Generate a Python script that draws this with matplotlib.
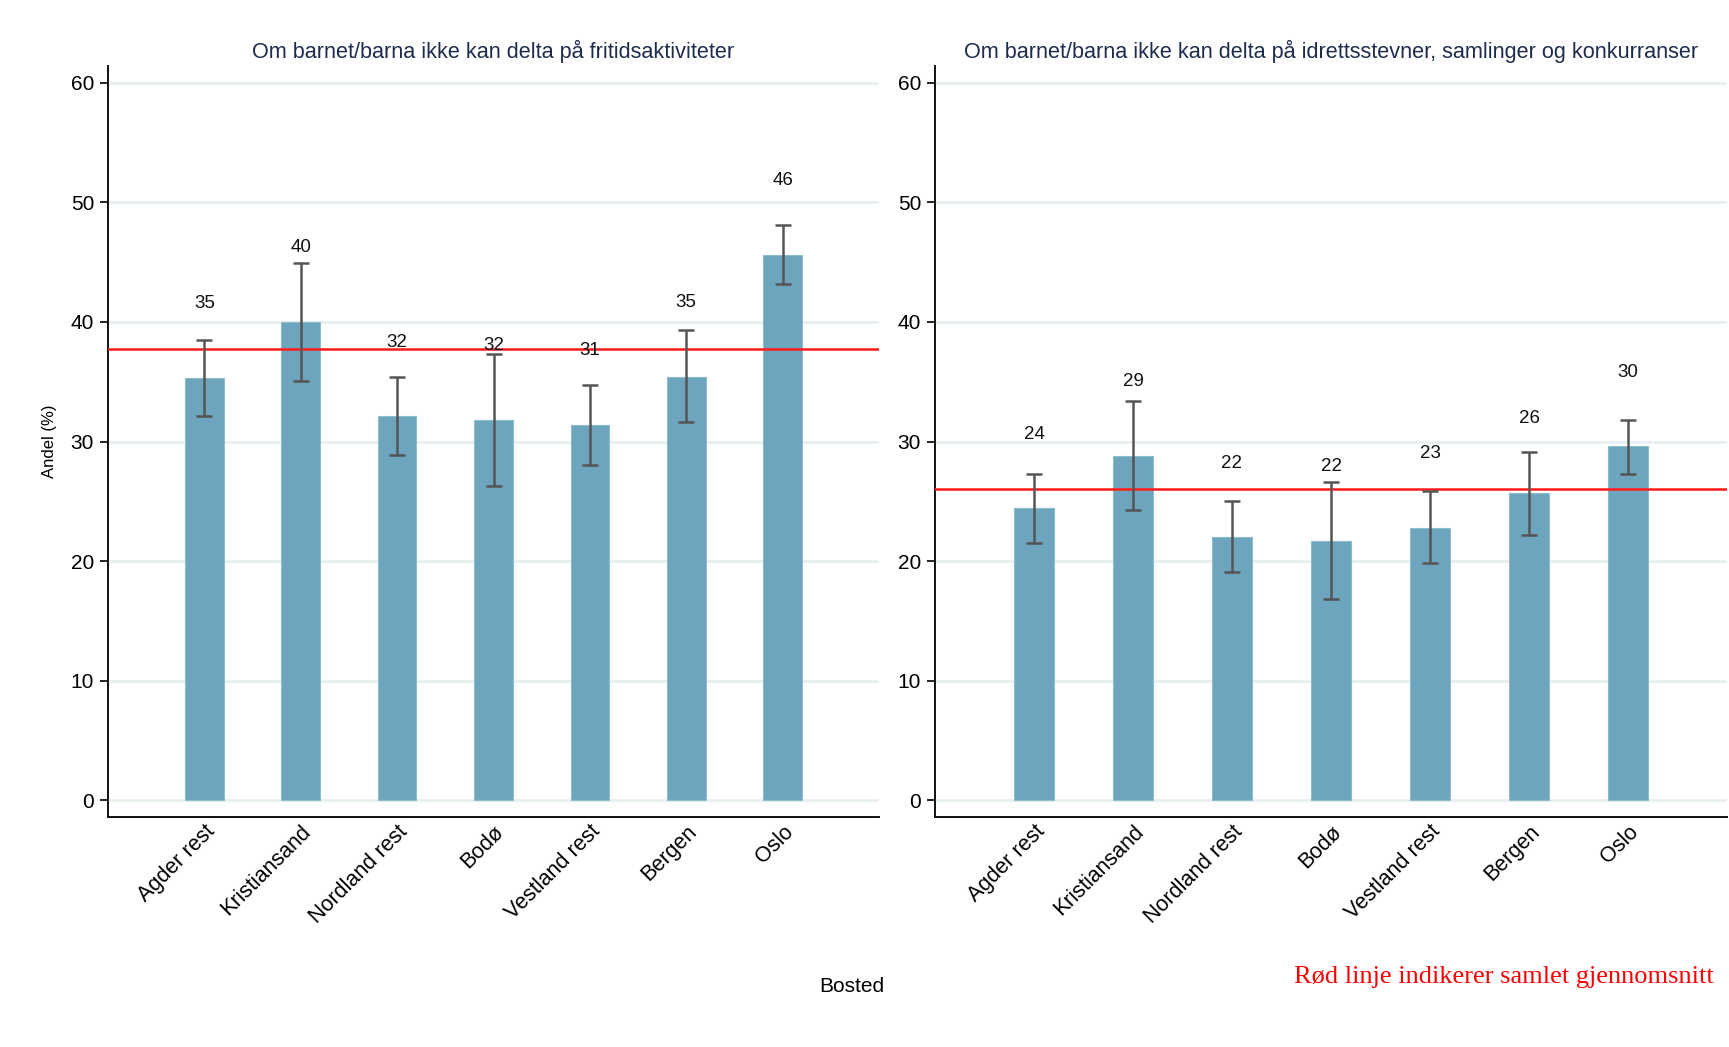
import matplotlib
matplotlib.use('Agg')
import matplotlib.pyplot as plt
import numpy as np

categories = ['Agder rest', 'Kristiansand', 'Nordland rest', 'Bodø',
              'Vestland rest', 'Bergen', 'Oslo']

fritid_values = [35.3, 40.0, 32.1, 31.8, 31.4, 35.4, 45.6]
fritid_lower = [32.1, 35.1, 28.9, 26.3, 28.0, 31.6, 43.2]
fritid_upper = [38.5, 44.9, 35.4, 37.3, 34.7, 39.3, 48.1]
fritid_mean = 37.7

idrett_values = [24.4, 28.8, 22.0, 21.7, 22.8, 25.7, 29.6]
idrett_lower = [21.5, 24.3, 19.1, 16.8, 19.8, 22.2, 27.3]
idrett_upper = [27.3, 33.4, 25.0, 26.6, 25.9, 29.1, 31.8]
idrett_mean = 26.0

titles = ['Om barnet/barna ikke kan delta på fritidsaktiviteter',
          'Om barnet/barna ikke kan delta på idrettsstevner, samlinger og konkurranser']
yticks = [0, 10, 20, 30, 40, 50, 60]

plt.rcParams['font.family'] = ['Liberation Sans', 'DejaVu Sans']

W, H = 1729, 1047
fig = plt.figure(figsize=(W / 100, H / 100), dpi=100)
fig.patch.set_facecolor('white')

bar_color = '#6ca5bd'
grid_color = '#e9f0f2'
title_color = '#1f2d4d'

def panel(rect, title, vals, lo, hi, mean, ylabel=None):
    ax = fig.add_axes(rect)
    x = np.arange(1, len(categories) + 1)
    ax.set_xlim(0, 8)
    ax.set_ylim(-1.4, 61.4)
    for t in yticks:
        ax.axhline(t, color=grid_color, lw=2, zorder=0)
    ax.bar(x, vals, width=0.4, color=bar_color, edgecolor='#8dbccd', lw=0.8, zorder=2)
    ax.axhline(mean, color='#ff1a1a', lw=1.8, zorder=3)
    v = np.array(vals)
    err = np.vstack([v - np.array(lo), np.array(hi) - v])
    ax.errorbar(x, v, yerr=err, fmt='none', ecolor='#555555', elinewidth=1.8,
                capsize=6, capthick=1.8, zorder=4)
    for xi, vi in zip(x, vals):
        ax.text(xi, vi + 6.2, f'{vi:.0f}', ha='center', va='center',
                fontsize=13.5, color='#111111', zorder=5)
    ax.set_yticks(yticks)
    ax.set_yticklabels([str(t) for t in yticks], fontsize=15)
    ax.tick_params(axis='y', length=6, width=1.2, direction='out', pad=4)
    ax.set_xticks(x)
    ax.set_xticklabels(categories, rotation=45, ha='right', va='top',
                       rotation_mode='anchor', fontsize=15.5)
    ax.tick_params(axis='x', length=0, pad=3)
    for s in ['top', 'right']:
        ax.spines[s].set_visible(False)
    for s in ['left', 'bottom']:
        ax.spines[s].set_linewidth(1.4)
        ax.spines[s].set_color('#111111')
    ax.set_title(title, fontsize=15.6, color=title_color, pad=6)
    if ylabel:
        ax.set_ylabel(ylabel, fontsize=12, labelpad=10)
    return ax

ax1 = panel([108 / W, 1 - 817 / H, (879 - 108) / W, (817 - 66) / H],
            titles[0], fritid_values, fritid_lower, fritid_upper, fritid_mean,
            ylabel='Andel (%)')
ax2 = panel([935 / W, 1 - 817 / H, (1727 - 935) / W, (817 - 66) / H],
            titles[1], idrett_values, idrett_lower, idrett_upper, idrett_mean)

fig.text(852 / W, 1 - 987 / H, 'Bosted', ha='center', va='center', fontsize=15)
fig.text(1714 / W, 1 - 977 / H, 'Rød linje indikerer samlet gjennomsnitt',
         ha='right', va='center', fontsize=19, color='#ff0000',
         family=['Liberation Serif', 'DejaVu Serif'])

fig.savefig('out.png', dpi=100, facecolor='white')
